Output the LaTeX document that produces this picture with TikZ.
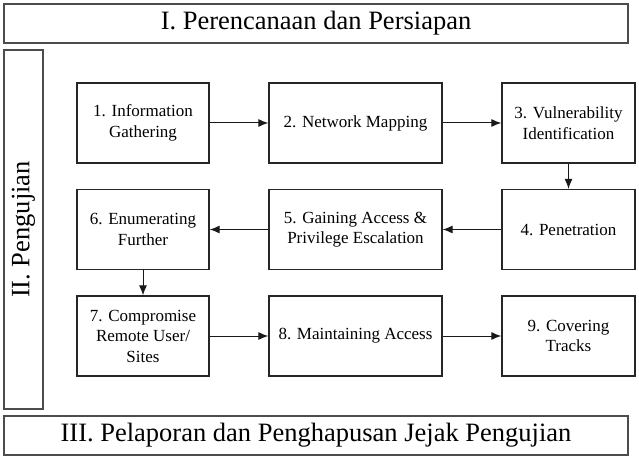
\documentclass[tikz,border=0pt]{standalone}
\usepackage{fontspec}
\setmainfont{Liberation Serif}
\usetikzlibrary{arrows.meta}
\begin{document}
\begin{tikzpicture}[x=1bp,y=-1bp,
  stage/.style={draw=black!70, line width=1.6bp, inner sep=0pt},
  stepbox/.style={draw=black!85, line width=1.3bp, minimum width=132bp, minimum height=80bp, inner sep=2bp, align=center, font=\fontsize{17bp}{20.5bp}\selectfont},
  arr/.style={-{Latex[length=10bp,width=8bp]}, line width=1bp, black!90}]
\useasboundingbox (0,0) rectangle (639,464);
\node[stage, minimum width=624bp, minimum height=39bp, font=\fontsize{26.5bp}{30bp}\selectfont] (p1) at (316,23.5) {I. Perencanaan dan Persiapan};
\node[stage, minimum width=39bp, minimum height=359bp] (p2) at (23.5,229.5) {};
\node[rotate=90, font=\fontsize{26.5bp}{30bp}\selectfont] (p2t) at (p2.center) {II. Pengujian};
\node[stage, minimum width=624bp, minimum height=39bp, font=\fontsize{26.5bp}{30bp}\selectfont] (p3) at (316,435.5) {III. Pelaporan dan Penghapusan Jejak Pengujian};
% row 1
\node[stepbox] (s1) at (143,123) {1. Information\\Gathering};
\node[stepbox, minimum width=173bp] (s2) at (355.5,123) {2. Network Mapping};
\node[stepbox, minimum width=133bp] (s3) at (568.5,123) {3. Vulnerability\\Identification};
% row 2
\node[stepbox] (s6) at (143,229.5) {6. Enumerating\\Further};
\node[stepbox, minimum width=173bp] (s5) at (355.5,229.5) {5. Gaining Access \&\\Privilege Escalation};
\node[stepbox, minimum width=133bp] (s4) at (568.5,229.5) {4. Penetration};
% row 3
\node[stepbox] (s7) at (143,336) {7. Compromise\\Remote User/\\Sites};
\node[stepbox, minimum width=173bp] (s8) at (355.5,336) {8. Maintaining Access};
\node[stepbox, minimum width=133bp] (s9) at (568.5,336) {9. Covering\\Tracks};
% arrows
\draw[arr] (s1) -- (s2);
\draw[arr] (s2) -- (s3);
\draw[arr] (s3) -- (s4);
\draw[arr] (s4) -- (s5);
\draw[arr] (s5) -- (s6);
\draw[arr] (s6) -- (s7);
\draw[arr] (s7) -- (s8);
\draw[arr] (s8) -- (s9);
\end{tikzpicture}
\end{document}
